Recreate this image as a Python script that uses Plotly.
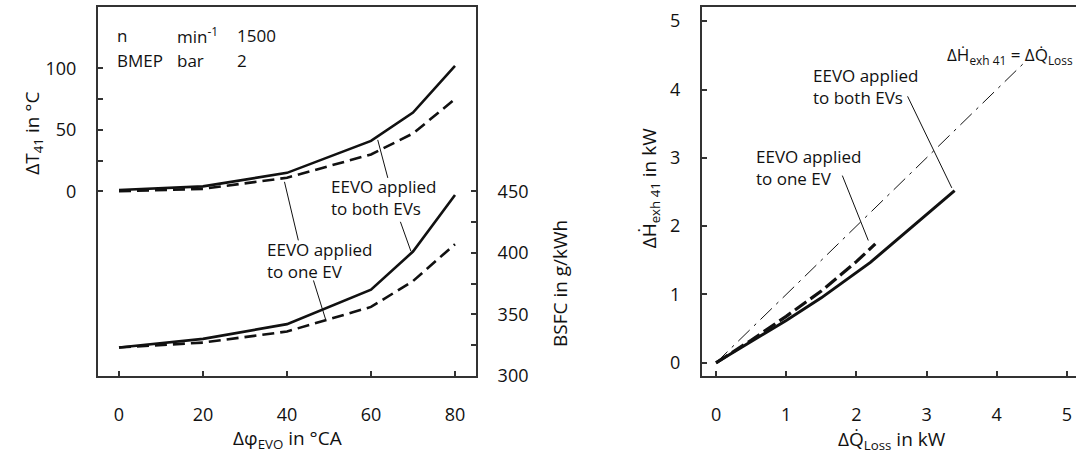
import plotly.graph_objects as go

W, H = 1076, 459
FONT = "Open Sans"
INK = "#111111"
AXC = "#333333"

# Left panel: exhaust temperature increase and BSFC over EVO advance
phi_evo = [0, 20, 40, 60, 70, 80]
dT41_both = [1, 4, 15, 41, 64, 102]
dT41_one = [0, 2, 11, 30, 47, 75]
bsfc_both = [323, 330, 342, 370, 401, 447]
bsfc_one = [323, 327, 336, 356, 377, 407]

# Right panel: exhaust enthalpy increase vs. loss heat increase
qloss_both = [0, 0.5, 1.0, 1.5, 2.2, 3.4]
hexh_both = [0, 0.31, 0.62, 0.95, 1.47, 2.52]
qloss_one = [0, 0.5, 1.0, 1.5, 2.0, 2.27]
hexh_one = [0, 0.33, 0.68, 1.05, 1.48, 1.74]
identity_q = [0, 4.4]

left_x_ticks = [0, 20, 40, 60, 80]
left_y_ticks = [0, 50, 100]
left_y_minor = [25, 75]
bsfc_ticks = [300, 350, 400, 450]
bsfc_minor = [325, 375, 425]
right_ticks = [0, 1, 2, 3, 4, 5]


def px_x(p):
    return p / W


def px_y(p):
    return 1 - p / H


fig = go.Figure()

# left panel curves
fig.add_trace(go.Scatter(x=phi_evo, y=dT41_both, mode="lines",
                         line=dict(color=INK, width=2.6), xaxis="x", yaxis="y"))
fig.add_trace(go.Scatter(x=phi_evo, y=dT41_one, mode="lines",
                         line=dict(color=INK, width=2.6, dash="12px,6px"), xaxis="x", yaxis="y"))
fig.add_trace(go.Scatter(x=phi_evo, y=bsfc_both, mode="lines",
                         line=dict(color=INK, width=2.6), xaxis="x", yaxis="y2"))
fig.add_trace(go.Scatter(x=phi_evo, y=bsfc_one, mode="lines",
                         line=dict(color=INK, width=2.6, dash="12px,6px"), xaxis="x", yaxis="y2"))

# right panel curves
fig.add_trace(go.Scatter(x=identity_q, y=identity_q, mode="lines",
                         line=dict(color=INK, width=1, dash="16px,6px,3px,6px"), xaxis="x3", yaxis="y3"))
fig.add_trace(go.Scatter(x=qloss_both, y=hexh_both, mode="lines",
                         line=dict(color=INK, width=3), xaxis="x3", yaxis="y3"))
fig.add_trace(go.Scatter(x=qloss_one, y=hexh_one, mode="lines",
                         line=dict(color=INK, width=3.2, dash="14px,5px"), xaxis="x3", yaxis="y3"))

tickfont = dict(family=FONT, size=18, color="#111")
common = dict(showline=True, linecolor=AXC, linewidth=2, ticks="inside", ticklen=5,
              tickwidth=1.5, tickcolor=AXC, showgrid=False, zeroline=False,
              tickfont=tickfont)
minor_l = dict(tickvals=left_y_minor, ticks="inside", ticklen=5, tickcolor=AXC, tickwidth=1.5)
minor_r = dict(tickvals=bsfc_minor, ticks="inside", ticklen=5, tickcolor=AXC, tickwidth=1.5)

fig.update_layout(
    width=W, height=H,
    margin=dict(l=0, r=0, t=0, b=0),
    paper_bgcolor="white", plot_bgcolor="white",
    showlegend=False,
    font=dict(family=FONT, color="#111"),
    xaxis=dict(domain=[px_x(98), px_x(476)], range=[-5, 85], tickvals=left_x_ticks,
               mirror=True, anchor="y", ticklabelstandoff=22, **common),
    yaxis=dict(domain=[px_y(385), px_y(7)], range=[-150, 150], tickvals=left_y_ticks,
               minor=minor_l, mirror=True, anchor="x", ticklabelstandoff=16, **common),
    yaxis2=dict(range=[300, 600], tickvals=bsfc_ticks, overlaying="y", side="right",
                minor=minor_r, anchor="x", ticklabelstandoff=16, **common),
    xaxis3=dict(domain=[px_x(702), 1.0], range=[-0.2, 5.13], tickvals=right_ticks,
                mirror=True, anchor="y3", ticklabelstandoff=22, **common),
    yaxis3=dict(domain=[px_y(385), px_y(7)], range=[-0.19, 5.21], tickvals=right_ticks,
                anchor="x3", ticklabelstandoff=16, **common),
)

ann = []
tf = dict(family=FONT, size=17, color="#111")

# operating point block
for txt, xv, yv in [("n", -1, 127), ("min<sup>-1</sup>", 13.4, 127), ("1500", 27.7, 127),
                    ("BMEP", -1, 106), ("bar", 13.4, 106), ("2", 27.7, 106)]:
    ann.append(dict(text=txt, x=xv, y=yv, xref="x", yref="y", xanchor="left", yanchor="middle",
                    showarrow=False, font=tf))

# curve labels, left panel
ann.append(dict(text="EEVO applied<br>to both EVs", x=50.1, y=-5, xref="x", yref="y",
                xanchor="left", yanchor="middle", align="left", showarrow=False, font=tf))
ann.append(dict(text="EEVO applied<br>to one EV", x=34.8, y=-56.5, xref="x", yref="y",
                xanchor="left", yanchor="middle", align="left", showarrow=False, font=tf))

# curve labels, right panel
ann.append(dict(text="EEVO applied<br>to both EVs", x=1.36, y=4.04, xref="x3", yref="y3",
                xanchor="left", yanchor="middle", align="left", showarrow=False, font=tf))
ann.append(dict(text="EEVO applied<br>to one EV", x=0.54, y=2.86, xref="x3", yref="y3",
                xanchor="left", yanchor="middle", align="left", showarrow=False, font=tf))
ann.append(dict(text="\u0394\u1E22<sub>exh 41</sub> = \u0394Q\u0307<sub>Loss</sub>", x=3.26, y=4.5,
                xref="x3", yref="y3", xanchor="left", yanchor="middle", showarrow=False, font=tf))

# axis titles
titf = dict(family=FONT, size=19, color="#111")
titles = [
    ("\u0394T<sub>41</sub> in \u00b0C", 33, 137, -90),
    ("BSFC in g/kWh", 560, 291, -90),
    ("\u0394\u03c6<sub>EVO</sub> in \u00b0CA", 287, 450, 0),
    ("\u0394\u1E22<sub>exh 41</sub> in kW", 650, 193, -90),
    ("\u0394Q\u0307<sub>Loss</sub> in kW", 892, 451, 0),
]
for txt, xp, yp, ang in titles:
    ann.append(dict(text=txt, x=px_x(xp), y=px_y(yp), xref="paper", yref="paper",
                    xanchor="center", yanchor="middle", textangle=ang, showarrow=False, font=titf))

fig.update_layout(annotations=ann)

# leader lines from labels to curves
leaders = [
    ("x", "y", 61.6, 41.8, 64.0, 10.9),
    ("x", "y2", 67.0, 425.2, 69.5, 401.3),
    ("x", "y", 39.4, 7.7, 42.7, -39.9),
    ("x", "y2", 46.3, 377.5, 49.2, 345.8),
    ("x3", "y3", 2.73, 3.9, 3.36, 2.56),
    ("x3", "y3", 1.80, 2.74, 2.17, 1.79),
]
for xr, yr, x0, y0, x1, y1 in leaders:
    fig.add_shape(type="line", xref=xr, yref=yr, x0=x0, y0=y0, x1=x1, y1=y1,
                  line=dict(color=INK, width=1))

fig.write_html("out.html")
